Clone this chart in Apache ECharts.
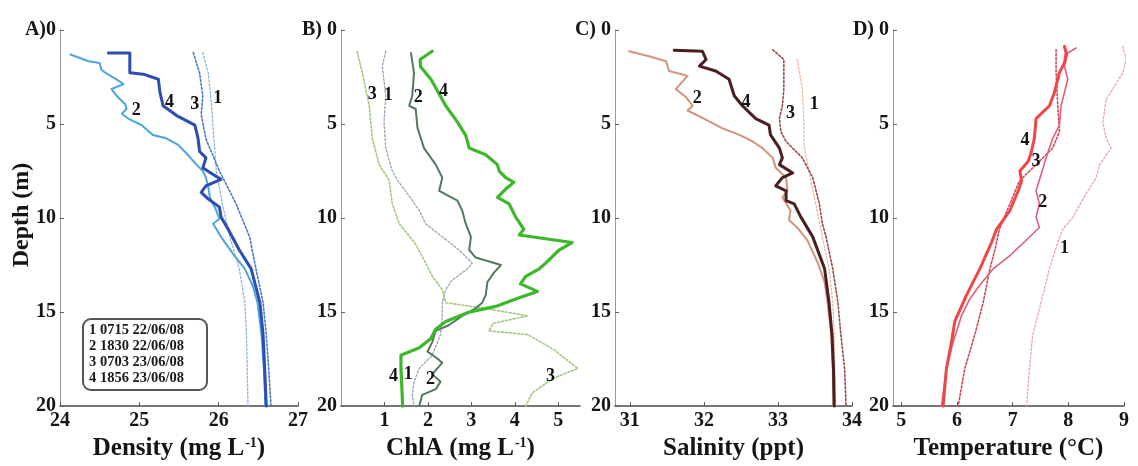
<!DOCTYPE html>
<html>
<head>
<meta charset="utf-8">
<script src="https://cdn.jsdelivr.net/npm/echarts@6/dist/echarts.min.js"></script>
<style>
html,body{margin:0;padding:0;background:#fff;}
#chart{width:1138px;height:466px;}
</style>
</head>
<body>
<div id="chart"></div>
<script>
// ---------- DATA (each profile: [depth (m), value]) ----------
const depthTicks = [0, 5, 10, 15, 20];
const panelLetters = ['A', 'B', 'C', 'D'];
const profileNames = ['1', '2', '3', '4'];
const legendLines = ['1 0715 22/06/08', '2 1830 22/06/08', '3 0703 23/06/08', '4 1856 23/06/08'];

const densityTicks = [24, 25, 26, 27];
const chlTicks = [1, 2, 3, 4, 5];
const salinityTicks = [31, 32, 33, 34];
const tempTicks = [5, 6, 7, 8, 9];

const density1 = [[1.2,25.80],[2.3,25.87],[4.0,25.91],[5.8,25.94],[7.5,25.97],[9.3,26.05],[11.0,26.14],[12.7,26.26],[14.5,26.33],[16.2,26.35],[18.0,26.36],[20,26.37]];
const density2 = [[1.3,24.13],[1.66,24.36],[1.75,24.50],[2.1,24.52],[2.27,24.57],[2.62,24.71],[2.88,24.80],[3.14,24.65],[3.58,24.73],[3.93,24.82],[4.19,24.84],[4.45,24.78],[4.71,24.86],[5.06,25.03],[5.58,25.17],[5.76,25.34],[6.11,25.49],[6.54,25.59],[7.16,25.72],[7.5,25.80],[7.85,25.84],[8.38,25.87],[8.9,25.89],[9.6,25.97],[10.04,26.01],[10.3,25.93],[11.0,26.03],[11.9,26.18],[12.7,26.33],[13.6,26.43],[14.5,26.49],[16.2,26.54],[18,26.57],[20,26.59]];
const density3 = [[1.2,25.68],[2.3,25.76],[3.5,25.80],[4.5,25.78],[5.8,25.84],[7.5,26.01],[9.25,26.22],[11,26.39],[12.7,26.47],[14.5,26.56],[16.2,26.60],[18,26.63],[20,26.66]];
const density4 = [[1.22,24.61],[1.22,24.88],[2.27,24.88],[2.35,25.05],[2.62,25.24],[3.32,25.26],[4.03,25.30],[4.55,25.47],[5.06,25.70],[5.76,25.74],[6.46,25.76],[6.8,25.84],[7.33,25.80],[7.68,25.93],[7.94,26.03],[8.29,25.84],[8.64,25.78],[8.99,25.87],[9.42,26.01],[9.95,26.03],[10.6,26.12],[11.7,26.26],[12.7,26.41],[14.5,26.52],[16.2,26.56],[18,26.58],[20,26.60]];

const chl1 = [[1.13,1.03],[1.92,0.95],[3.5,1.03],[4.9,0.99],[6.28,1.03],[7.5,1.18],[8.0,1.30],[8.7,1.53],[9.6,1.80],[10.3,1.95],[11.0,2.33],[11.7,2.72],[12.4,3.02],[12.7,2.91],[13.3,2.56],[13.8,2.41],[14.5,2.33],[15.2,2.33],[16.2,2.29],[17.3,2.10],[18,1.80],[18.7,1.68],[19.4,1.64],[20,1.68]];
const chl2 = [[1.22,1.61],[2.27,1.68],[3.5,1.64],[4.03,1.57],[4.2,1.72],[5.2,1.76],[6.28,1.91],[7.16,2.18],[7.85,2.33],[8.55,2.26],[9.07,2.68],[9.6,2.79],[10.3,2.87],[11.0,2.99],[11.7,2.95],[12.1,3.10],[12.5,3.68],[12.9,3.52],[13.4,3.37],[14.1,3.33],[14.5,3.25],[14.8,3.10],[15.2,2.79],[15.7,2.48],[16.0,2.18],[16.6,2.10],[17.1,1.99],[17.4,2.18],[17.7,2.33],[18.3,2.10],[18.7,2.29],[19.1,2.18],[19.4,1.87],[20,1.80]];
const chl3 = [[1.13,0.37],[2.27,0.49],[4.03,0.65],[5.76,0.72],[7.16,0.88],[8.0,1.11],[9.25,1.18],[10.3,1.34],[11.4,1.72],[12.4,1.95],[13.1,2.10],[13.8,2.33],[14.5,2.41],[14.8,3.3],[15.2,4.3],[15.6,3.5],[16.0,3.4],[16.2,4.3],[17.0,4.9],[18.0,5.45],[18.5,4.9],[19.3,4.4],[20,4.25]];
const chl4 = [[1.13,2.10],[1.57,1.82],[1.95,1.83],[2.62,2.07],[3.4,2.26],[4.03,2.41],[4.9,2.68],[5.6,2.87],[6.28,2.95],[6.63,3.33],[7.16,3.60],[7.5,3.64],[7.85,3.79],[8.1,3.98],[8.46,3.79],[8.9,3.60],[9.25,3.87],[9.95,4.02],[10.6,4.21],[10.9,4.10],[11.3,5.32],[11.7,5.02],[12.4,4.71],[12.7,4.56],[13.1,4.25],[13.5,4.13],[13.9,4.52],[14.3,4.02],[14.7,3.56],[15.0,2.95],[15.5,2.41],[15.9,2.18],[16.4,2.07],[16.9,1.80],[17.3,1.38],[18,1.38],[20,1.42]];

const salinity1 = [[1.57,33.26],[3.14,33.33],[4.9,33.35],[6.1,33.35],[7.5,33.42],[9.25,33.51],[11,33.60],[12.7,33.69],[14.5,33.74],[16.2,33.76],[20,33.78]];
const salinity2 = [[1.13,30.99],[1.4,31.26],[1.66,31.49],[2.18,31.53],[2.44,31.78],[3.14,31.62],[3.58,31.76],[4.03,31.85],[4.28,31.78],[4.71,32.00],[5.23,32.25],[5.58,32.48],[5.93,32.66],[6.28,32.79],[6.8,32.93],[7.33,32.97],[7.85,33.11],[8.55,33.13],[8.9,33.06],[9.6,33.17],[10.1,33.15],[10.5,33.26],[11.2,33.40],[12.4,33.54],[13.4,33.63],[14.5,33.67],[16.2,33.72],[18,33.74],[20,33.75]];
const salinity3 = [[1.05,32.93],[1.57,33.08],[3.14,33.08],[4.03,33.06],[4.71,33.02],[5.41,33.04],[5.93,33.11],[6.8,33.33],[7.85,33.47],[9.25,33.56],[10.3,33.60],[11.0,33.65],[12.7,33.74],[14.5,33.81],[16.2,33.85],[18,33.90],[20,33.92]];
const salinity4 = [[1.08,31.60],[1.13,31.98],[1.57,32.03],[1.92,31.94],[2.18,32.16],[2.62,32.34],[3.5,32.41],[4.03,32.52],[4.71,32.70],[5.06,32.88],[5.58,32.90],[6.28,33.02],[6.8,33.06],[7.16,33.02],[7.6,33.20],[7.85,33.06],[8.29,32.97],[8.55,33.11],[9.07,33.11],[9.25,33.22],[9.95,33.31],[11.0,33.47],[12.7,33.63],[14.5,33.69],[16.2,33.73],[18,33.75],[20,33.76]];

const temp1 = [[0.87,8.98],[1.57,9.04],[2.27,8.98],[3.7,8.68],[4.9,8.62],[5.76,8.68],[6.28,8.77],[7.16,8.56],[7.85,8.50],[8.7,8.32],[9.95,8.08],[10.6,7.90],[11.3,7.81],[12.7,7.66],[14.5,7.51],[16.2,7.36],[18,7.30],[20,7.25]];
const temp2 = [[0.96,8.14],[1.22,7.99],[1.92,7.93],[2.62,7.99],[4.03,7.87],[5.06,7.84],[5.76,7.72],[6.8,7.60],[7.68,7.51],[8.55,7.42],[9.25,7.48],[9.95,7.42],[10.5,7.48],[11.3,7.20],[12.0,6.95],[12.7,6.65],[13.6,6.40],[14.3,6.23],[15.2,6.08],[16.6,5.93],[18,5.81],[20,5.72]];
const temp3 = [[1.05,7.78],[2.27,7.78],[4.03,7.81],[5.41,7.84],[6.28,7.72],[7.16,7.42],[8.03,7.12],[9.25,6.95],[10.6,6.76],[11.7,6.68],[12.7,6.59],[14.5,6.47],[16.2,6.32],[18,6.14],[20,6.02]];
const temp4 = [[0.87,7.93],[1.22,7.96],[1.75,7.93],[2.27,7.84],[3.32,7.75],[4.03,7.66],[4.71,7.42],[5.76,7.39],[6.54,7.33],[6.98,7.28],[7.5,7.13],[8.03,7.16],[8.55,7.10],[9.6,6.95],[10.6,6.71],[11.3,6.62],[12.7,6.41],[14.1,6.17],[15.5,5.96],[16.6,5.90],[18,5.81],[20,5.75]];

// profile-number annotations: [text, value, depth]
const labelsDensity = [['1',25.99,3.66],['3',25.70,3.93],['4',25.38,3.84],['2',24.96,4.28]];
const labelsChl = [['3',0.72,3.4],['1',1.09,3.5],['2',1.78,3.56],['4',2.36,3.25],['4',1.21,18.4],['1',1.55,18.3],['2',2.06,18.6],['3',4.82,18.4]];
const labelsSalinity = [['2',31.91,3.66],['4',32.57,3.84],['3',33.17,4.45],['1',33.49,3.93]];
const labelsTemp = [['4',7.22,5.85],['3',7.42,6.98],['2',7.54,9.16],['1',7.93,11.6]];

// ---------- CHART ----------
const FONT = "'Liberation Serif', 'Times New Roman', serif";
const chart = echarts.init(document.getElementById('chart'), null, {renderer: 'canvas'});

const grids = [
  {left: 60, top: 30, width: 238, height: 382},
  {left: 341, top: 30, width: 239, height: 382},
  {left: 615, top: 30, width: 237, height: 382},
  {left: 893, top: 30, width: 231, height: 382}
];

const panels = [
  {min: 24, max: 27, ticks: densityTicks, name: 'Density (mg L{sup|-1})',
   profiles: [density1, density2, density3, density4], labels: labelsDensity,
   styles: [
     {color: '#8fb4dc', width: 1.3, type: [2, 2]},
     {color: '#4aa6dc', width: 2, type: 'solid'},
     {color: '#4a78c8', width: 1.6, type: [2, 2]},
     {color: '#2d4db2', width: 3, type: 'solid'}]},
  {min: 0, max: 5.5, ticks: chlTicks, name: 'ChlA (mg L{sup|-1})',
   profiles: [chl1, chl2, chl3, chl4], labels: labelsChl,
   styles: [
     {color: '#95a3b3', width: 1.3, type: [2, 2]},
     {color: '#4f7a5c', width: 2, type: 'solid'},
     {color: '#a3c97a', width: 1.6, type: [2, 2]},
     {color: '#3cb82a', width: 3.2, type: 'solid'}]},
  {min: 30.8, max: 34.0, ticks: salinityTicks, name: 'Salinity (ppt)',
   profiles: [salinity1, salinity2, salinity3, salinity4], labels: labelsSalinity,
   styles: [
     {color: '#e9b9a0', width: 1.3, type: [2, 2]},
     {color: '#d4937a', width: 2, type: 'solid'},
     {color: '#9b4848', width: 1.6, type: [2, 2]},
     {color: '#4b1f22', width: 3, type: 'solid'}]},
  {min: 4.85, max: 9.0, ticks: tempTicks, name: 'Temperature (°C)',
   profiles: [temp1, temp2, temp3, temp4], labels: labelsTemp,
   styles: [
     {color: '#e8a3b4', width: 1.3, type: [2, 2]},
     {color: '#e0607c', width: 1.6, type: 'solid'},
     {color: '#d2485a', width: 1.6, type: [2, 2]},
     {color: '#f14646', width: 3, type: 'solid'}]}
];

const xAxis = [], yAxis = [], series = [];
panels.forEach((p, i) => {
  xAxis.push({
    type: 'value', gridIndex: i, min: p.min, max: p.max,
    name: p.name, nameLocation: 'middle', nameGap: 23,
    nameTextStyle: {fontFamily: FONT, fontWeight: 'bold', fontSize: 25, color: '#151515',
      rich: {sup: {fontFamily: FONT, fontWeight: 'bold', fontSize: 14, color: '#151515', verticalAlign: 'top', padding: [0, 0, 9, 1]}}},
    axisLine: {show: true, onZero: false, lineStyle: {color: '#4a4a4a', width: 1.5}},
    axisTick: {show: true, inside: true, length: 4, customValues: p.ticks, lineStyle: {color: '#555'}},
    axisLabel: {customValues: p.ticks, fontFamily: FONT, fontWeight: 'bold', fontSize: 20, color: '#151515', margin: 5},
    splitLine: {show: false}
  });
  yAxis.push({
    type: 'value', gridIndex: i, min: 0, max: 20, interval: 5, inverse: true,
    axisLine: {show: true, onZero: false, lineStyle: {color: '#9a9a9a', width: 1}},
    axisTick: {show: true, inside: true, length: 4, lineStyle: {color: '#666'}},
    axisLabel: {fontFamily: FONT, fontWeight: 'bold', fontSize: 20, color: '#151515', margin: 4,
      formatter: v => v === 0 ? (i === 0 ? panelLetters[i] + ')0' : panelLetters[i] + ') 0') : String(v)},
    splitLine: {show: false}
  });
  p.profiles.forEach((prof, k) => {
    const s = p.styles[k];
    series.push({
      type: 'line', name: panelLetters[i] + profileNames[k], xAxisIndex: i, yAxisIndex: i,
      data: prof.map(d => [d[1], d[0]]),
      symbol: 'none', smooth: false, clip: false, z: 2 + (s.type === 'solid' ? 1 : 0),
      lineStyle: {color: s.color, width: s.width, type: s.type, cap: 'round', join: 'round'},
      silent: true, animation: false
    });
  });
});

const baseGraphic = [
  {type: 'text', x: 22, y: 215, rotation: Math.PI / 2,
   style: {text: 'Depth (m)', fontFamily: FONT, fontWeight: 'bold', fontSize: 24, fill: '#151515', align: 'center', verticalAlign: 'middle'}},
  {type: 'rect', shape: {x: 83, y: 319, width: 124, height: 71, r: 8},
   style: {fill: 'rgba(255,255,255,0.9)', stroke: '#555', lineWidth: 2}, z: 20}
];
legendLines.forEach((t, j) => {
  baseGraphic.push({type: 'text', x: 89, y: 330 + j * 16, z: 21,
    style: {text: t, fontFamily: FONT, fontWeight: 'bold', fontSize: 14.5, fill: '#1a1a1a', align: 'left', verticalAlign: 'middle'}});
});

chart.setOption({
  backgroundColor: '#ffffff',
  animation: false,
  grid: grids,
  xAxis: xAxis,
  yAxis: yAxis,
  series: series,
  graphic: baseGraphic
});

// profile-number annotations, positioned through the panels' own scales
const annot = [];
panels.forEach((p, i) => {
  p.labels.forEach(l => {
    const pt = chart.convertToPixel({gridIndex: i}, [l[1], l[2]]);
    annot.push({type: 'text', x: pt[0], y: pt[1], z: 30,
      style: {text: l[0], fontFamily: FONT, fontWeight: 'bold', fontSize: 18, fill: '#111', align: 'center', verticalAlign: 'middle'}});
  });
});
chart.setOption({graphic: baseGraphic.concat(annot)});
</script>
</body>
</html>
